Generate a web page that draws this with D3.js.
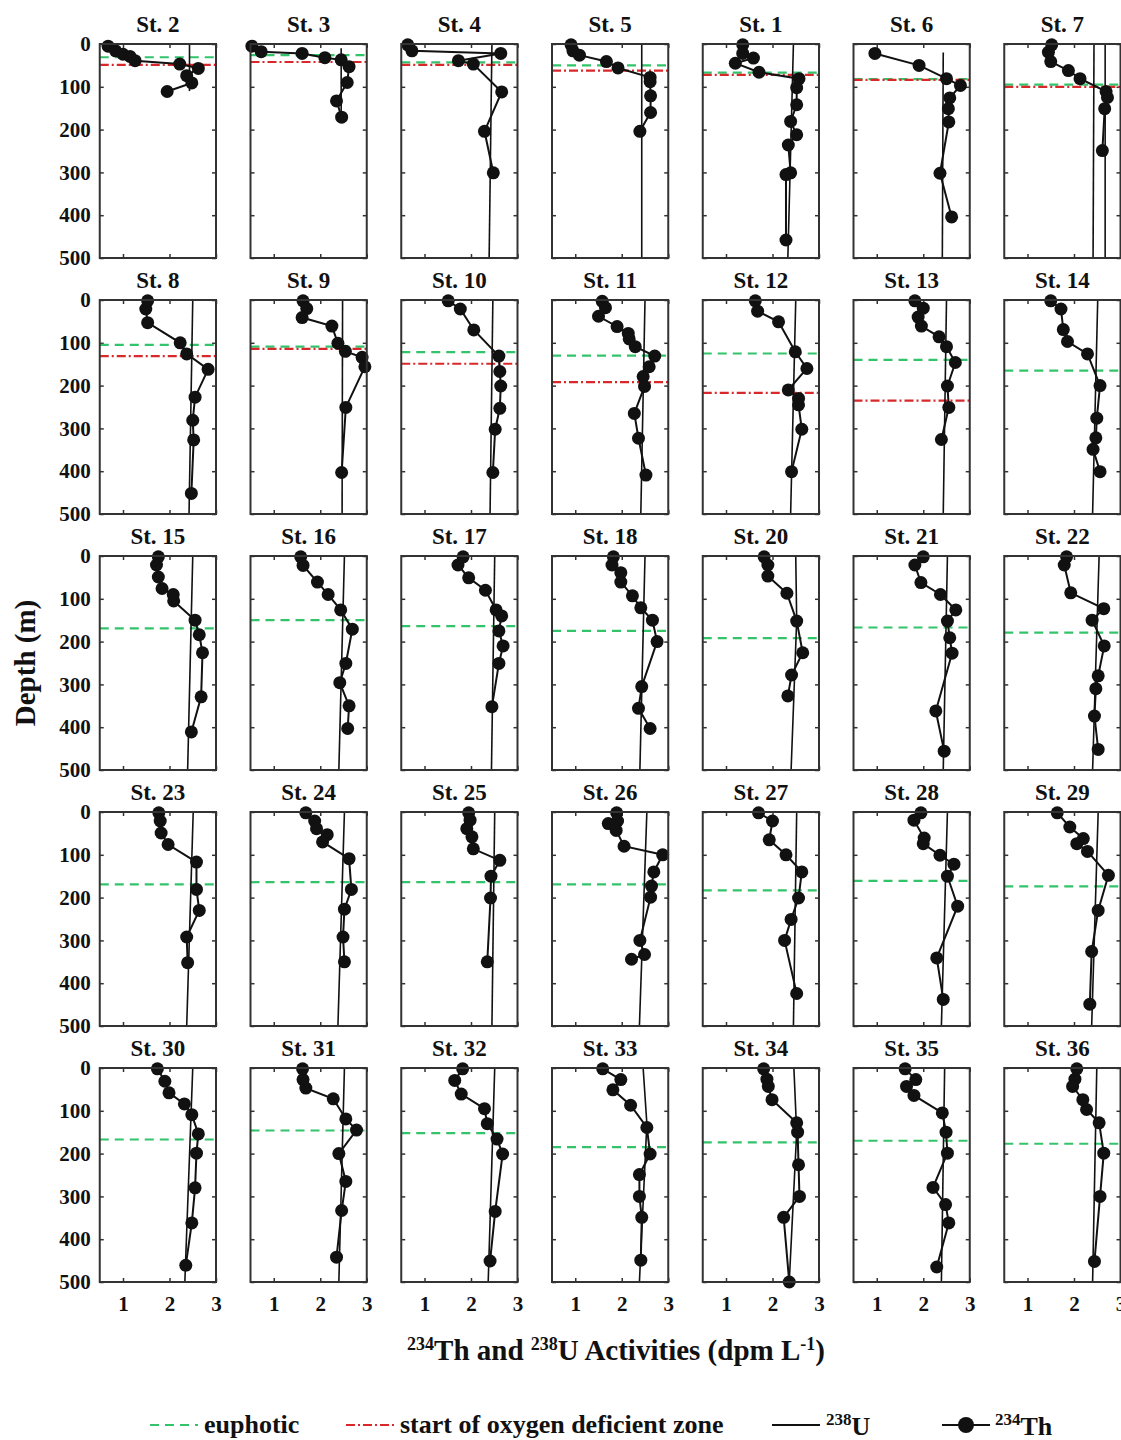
<!DOCTYPE html>
<html lang="en">
<head>
<meta charset="UTF-8">
<title>234Th and 238U profiles</title>
<script src="https://d3js.org/d3.v7.min.js"></script>
<style>
  body { margin: 0; background: #ffffff; }
  svg text { font-family: "Liberation Serif", "Times New Roman", serif; font-weight: bold; fill: #111; }
</style>
</head>
<body>
<div id="chart"></div>
<script>
// stations, in panel order (7 per row)
var stations = ["St. 2","St. 3","St. 4","St. 5","St. 1","St. 6","St. 7",
                "St. 8","St. 9","St. 10","St. 11","St. 12","St. 13","St. 14",
                "St. 15","St. 16","St. 17","St. 18","St. 20","St. 21","St. 22",
                "St. 23","St. 24","St. 25","St. 26","St. 27","St. 28","St. 29",
                "St. 30","St. 31","St. 32","St. 33","St. 34","St. 35","St. 36"];

// 234Th activity (dpm/L) and sample depth (m)
var thActivity = [
  [0.68,0.84,1.0,1.15,1.26,2.22,2.62,2.37,2.48,1.95],
  [0.53,0.73,1.61,2.1,2.45,2.62,2.58,2.35,2.46],
  [0.64,0.73,2.64,1.73,2.05,2.66,2.29,2.48],
  [0.91,0.95,1.09,1.67,1.92,2.61,2.61,2.62,2.62,2.39],
  [1.36,1.36,1.59,1.2,1.71,2.57,2.52,2.52,2.39,2.52,2.34,2.39,2.29,2.29],
  [0.96,1.91,2.5,2.8,2.57,2.54,2.55,2.36,2.61],
  [1.52,1.45,1.5,1.88,2.13,2.69,2.72,2.66,2.61],
  [1.53,1.49,1.53,2.23,2.37,2.83,2.55,2.5,2.52,2.47],
  [1.63,1.71,1.61,2.25,2.38,2.54,2.9,2.96,2.55,2.46],
  [1.51,1.77,2.06,2.6,2.62,2.64,2.62,2.52,2.47],
  [1.58,1.65,1.5,1.9,2.14,2.16,2.29,2.71,2.59,2.46,2.49,2.27,2.36,2.52],
  [1.63,1.68,2.13,2.49,2.74,2.34,2.56,2.56,2.63,2.41],
  [1.82,2.0,1.89,1.96,2.34,2.5,2.69,2.52,2.55,2.39],
  [1.5,1.72,1.77,1.86,2.29,2.56,2.49,2.47,2.41,2.56],
  [1.76,1.72,1.76,1.84,2.08,2.09,2.55,2.64,2.71,2.68,2.47],
  [1.58,1.63,1.94,2.17,2.44,2.69,2.55,2.42,2.62,2.59],
  [1.83,1.72,1.95,2.31,2.54,2.66,2.6,2.69,2.6,2.45],
  [1.82,1.79,1.98,1.98,2.23,2.41,2.66,2.76,2.43,2.36,2.61],
  [1.82,1.9,1.9,2.31,2.52,2.65,2.41,2.33],
  [2.0,1.82,1.95,2.37,2.7,2.52,2.57,2.62,2.27,2.45],
  [1.84,1.79,1.93,2.64,2.39,2.65,2.52,2.47,2.44,2.52],
  [1.77,1.8,1.82,1.97,2.58,2.58,2.64,2.37,2.39],
  [1.69,1.88,1.92,2.15,2.05,2.62,2.67,2.52,2.49,2.52],
  [1.95,1.98,1.91,2.02,2.05,2.62,2.43,2.42,2.35],
  [1.89,1.91,1.71,1.88,2.05,2.88,2.69,2.64,2.62,2.39,2.49,2.21],
  [1.7,2.0,1.93,2.29,2.63,2.56,2.4,2.26,2.52],
  [1.95,1.8,2.02,2.0,2.36,2.66,2.52,2.74,2.29,2.43],
  [1.64,1.91,2.2,2.06,2.29,2.74,2.52,2.38,2.34],
  [1.74,1.9,1.99,2.32,2.48,2.62,2.58,2.55,2.48,2.35],
  [1.62,1.63,1.69,2.28,2.55,2.78,2.4,2.55,2.46,2.35],
  [1.82,1.65,1.79,2.29,2.35,2.56,2.68,2.52,2.41],
  [1.59,1.98,1.81,2.19,2.54,2.61,2.38,2.38,2.43,2.41],
  [1.81,1.88,1.91,1.99,2.52,2.54,2.56,2.58,2.24,2.36],
  [1.61,1.84,1.64,1.8,2.41,2.49,2.52,2.21,2.48,2.55,2.29],
  [2.06,2.02,1.97,2.19,2.27,2.54,2.64,2.56,2.44]
];
var thDepth = [
  [5,16,24,29,39,47,57,74,91,111],
  [5,18,22,32,37,53,90,133,171],
  [2,16,22,39,47,112,204,301],
  [2,16,26,41,56,78,88,121,160,204],
  [2,22,33,45,66,81,102,142,181,212,236,301,305,458],
  [22,50,81,97,126,151,182,302,404],
  [2,19,41,62,81,111,125,151,249],
  [2,21,53,100,126,162,227,281,327,452],
  [2,20,41,61,101,120,134,156,251,403],
  [2,21,70,131,167,201,253,302,403],
  [3,18,38,62,78,91,109,131,156,179,202,265,323,409],
  [2,26,51,121,160,210,230,245,302,401],
  [2,19,40,61,86,109,146,201,251,326],
  [2,21,69,97,126,200,276,322,349,401],
  [2,21,49,76,90,105,150,184,226,329,411],
  [2,22,61,90,126,171,251,296,350,403],
  [2,21,51,80,126,140,175,210,251,352],
  [2,21,39,61,93,121,150,200,305,356,403],
  [2,21,47,87,152,226,278,327],
  [2,21,62,90,126,152,191,227,362,456],
  [2,21,86,123,150,210,280,310,374,452],
  [2,21,49,76,117,181,230,292,352],
  [2,21,39,53,70,109,181,227,292,350],
  [2,19,39,58,86,113,150,201,350],
  [2,21,27,43,80,100,140,173,199,300,333,344],
  [2,21,65,100,140,201,251,300,424],
  [2,19,61,74,101,122,150,220,341,438],
  [2,35,62,74,92,148,230,326,449],
  [2,31,58,84,109,154,199,280,362,461],
  [2,27,47,72,119,145,200,265,333,442],
  [2,29,61,95,130,166,201,335,451],
  [2,27,51,87,139,201,249,300,349,449],
  [2,26,43,74,128,150,226,300,349,500],
  [2,27,43,64,105,150,199,279,319,362,465],
  [2,26,43,74,97,128,199,300,452]
];

// 238U activity (dpm/L) and the depths it is given at
var uActivity = [
  [2.43,2.43],[2.45,2.45],[2.45,2.39],[2.43,2.43],[2.45,2.33],[2.43,2.41],[2.43,2.41],
  [2.5,2.42],[2.48,2.47],[2.47,2.41],[2.5,2.41],[2.5,2.39],[2.5,2.43],[2.51,2.4],
  [2.5,2.39],[2.52,2.4],[2.51,2.44],[2.5,2.39],[2.5,2.52,2.4],[2.52,2.43],[2.54,2.4],
  [2.51,2.37],[2.52,2.38],[2.51,2.45],[2.54,2.38],[2.52,2.45],[2.52,2.39],[2.52,2.38],
  [2.5,2.33],[2.52,2.4],[2.51,2.37],[2.46,2.54,2.38],[2.46,2.52,2.36],[2.46,2.39],[2.49,2.4]
];
var uDepth = [
  [0,110],[10,170],[0,500],[0,500],[0,500],[20,500],[0,500],
  [0,500],[0,500],[0,500],[0,500],[0,500],[0,500],[0,500],
  [0,500],[0,500],[0,500],[0,500],[0,150,500],[0,500],[0,500],
  [0,500],[0,500],[0,500],[0,500],[0,500],[0,500],[0,500],
  [0,500],[0,500],[0,500],[0,130,500],[0,150,500],[0,500],[0,500]
];
// St. 7 shows a second 238U profile
var u2Station = ["St. 7"];
var u2Activity = [[2.67,2.67]];
var u2Depth = [[0,500]];

// euphotic depth and start of the oxygen deficient zone (m); null = not drawn
var euphotic = [31,26,43,50,67,82,95, 105,109,122,130,125,140,165,
                169,150,164,175,192,167,179, 169,164,164,169,183,161,174,
                167,146,152,185,174,170,177];
var odz = [49,42,49,62,72,84,100, 131,114,149,192,217,235,null,
           null,null,null,null,null,null,null, null,null,null,null,null,null,null,
           null,null,null,null,null,null,null];

var xTicks = [1,2,3];
var yTicks = [0,100,200,300,400,500];

var W = 1121, H = 1440;
var nCols = 7;
var panelW = 116.25, panelH = 214;
var colX = function(c) { return 99.75 + c * 150.75; };
var rowY = function(r) { return 44 + r * 256; };
var nRows = Math.ceil(stations.length / nCols);

var green = "#33c46b", red = "#d8282a";

var svg = d3.select("#chart").append("svg")
    .attr("width", W)
    .attr("height", H)
    .style("background-color", "white");

var x = d3.scaleLinear().domain([0.5, 3]).range([0, panelW]);
var y = d3.scaleLinear().domain([0, 500]).range([0, panelH]);

var line = d3.line()
    .x(function(d) { return x(d[0]); })
    .y(function(d) { return y(d[1]); });

stations.forEach(function(name, i) {
    var c = i % nCols, r = Math.floor(i / nCols);
    var g = svg.append("g")
        .attr("transform", "translate(" + colX(c) + "," + rowY(r) + ")");

    // axes with inward ticks on all four sides
    var xb = g.append("g").attr("transform", "translate(0," + panelH + ")")
        .call(d3.axisBottom(x).tickValues(xTicks).tickSizeInner(-4).tickSizeOuter(0).tickPadding(14)
            .tickFormat(r === nRows - 1 ? d3.format("d") : ""));
    var xt = g.append("g")
        .call(d3.axisTop(x).tickValues(xTicks).tickSizeInner(-4).tickSizeOuter(0).tickFormat(""));
    var yl = g.append("g")
        .call(d3.axisLeft(y).tickValues(yTicks).tickSizeInner(-4).tickSizeOuter(0).tickPadding(9)
            .tickFormat(c === 0 ? d3.format("d") : ""));
    var yr = g.append("g").attr("transform", "translate(" + panelW + ",0)")
        .call(d3.axisRight(y).tickValues(yTicks).tickSizeInner(-4).tickSizeOuter(0).tickFormat(""));
    [xb, xt, yl, yr].forEach(function(a) {
        a.select(".domain").remove();
        a.selectAll("line").attr("stroke", "#333").attr("stroke-width", 1.5);
        a.selectAll("text").style("font-size", "21px").attr("fill", "#111");
    });

    // euphotic and ODZ lines
    if (euphotic[i] != null) {
        g.append("line")
            .attr("x1", 0).attr("x2", panelW)
            .attr("y1", y(euphotic[i])).attr("y2", y(euphotic[i]))
            .attr("stroke", green).attr("stroke-width", 2.2)
            .attr("stroke-dasharray", "9,6");
    }
    if (odz[i] != null) {
        g.append("line")
            .attr("x1", 0).attr("x2", panelW)
            .attr("y1", y(odz[i])).attr("y2", y(odz[i]))
            .attr("stroke", red).attr("stroke-width", 2.2)
            .attr("stroke-dasharray", "9,3,2,3");
    }

    // 238U
    var uPts = uActivity[i].map(function(v, k) { return [v, uDepth[i][k]]; });
    g.append("path").datum(uPts)
        .attr("d", line).attr("fill", "none")
        .attr("stroke", "#111").attr("stroke-width", 1.6);
    var a2 = u2Station.indexOf(name);
    if (a2 >= 0) {
        var u2Pts = u2Activity[a2].map(function(v, k) { return [v, u2Depth[a2][k]]; });
        g.append("path").datum(u2Pts)
            .attr("d", line).attr("fill", "none")
            .attr("stroke", "#111").attr("stroke-width", 1.6);
    }

    // 234Th
    var thPts = thActivity[i].map(function(v, k) { return [v, thDepth[i][k]]; });
    g.append("path").datum(thPts)
        .attr("d", line).attr("fill", "none")
        .attr("stroke", "#111").attr("stroke-width", 2);
    g.selectAll("circle").data(thPts).enter().append("circle")
        .attr("cx", function(d) { return x(d[0]); })
        .attr("cy", function(d) { return y(d[1]); })
        .attr("r", 6.5)
        .attr("fill", "#111");

    // frame
    g.append("rect")
        .attr("width", panelW).attr("height", panelH)
        .attr("fill", "none").attr("stroke", "#333").attr("stroke-width", 2);

    // title
    g.append("text")
        .attr("x", panelW / 2).attr("y", -12)
        .attr("text-anchor", "middle")
        .style("font-size", "23px")
        .text(name);
});

// y axis label
svg.append("text")
    .attr("transform", "translate(35,663) rotate(-90)")
    .attr("text-anchor", "middle")
    .style("font-size", "29px")
    .text("Depth (m)");

// x axis label with superscripts
var xl = svg.append("text")
    .attr("x", 616).attr("y", 1360)
    .attr("text-anchor", "middle")
    .style("font-size", "29px");
xl.append("tspan").attr("dy", -10).style("font-size", "18px").text("234");
xl.append("tspan").attr("dy", 10).text("Th and ");
xl.append("tspan").attr("dy", -10).style("font-size", "18px").text("238");
xl.append("tspan").attr("dy", 10).text("U Activities (dpm L");
xl.append("tspan").attr("dy", -10).style("font-size", "18px").text("-1");
xl.append("tspan").attr("dy", 10).text(")");

// legend
var ly = 1425;
var legend = svg.append("g");
legend.append("line").attr("x1", 150).attr("x2", 198).attr("y1", ly).attr("y2", ly)
    .attr("stroke", green).attr("stroke-width", 2.2).attr("stroke-dasharray", "9,6");
legend.append("text").attr("x", 204).attr("y", ly + 8).style("font-size", "26px").text("euphotic");

legend.append("line").attr("x1", 346).attr("x2", 395).attr("y1", ly).attr("y2", ly)
    .attr("stroke", red).attr("stroke-width", 2.2).attr("stroke-dasharray", "9,3,2,3");
legend.append("text").attr("x", 400).attr("y", ly + 8).style("font-size", "26px")
    .text("start of oxygen deficient zone");

legend.append("line").attr("x1", 772).attr("x2", 820).attr("y1", ly).attr("y2", ly)
    .attr("stroke", "#111").attr("stroke-width", 1.8);
var lu = legend.append("text").attr("x", 826).attr("y", ly + 10).style("font-size", "26px");
lu.append("tspan").attr("dy", -10).style("font-size", "17px").text("238");
lu.append("tspan").attr("dy", 10).text("U");

legend.append("line").attr("x1", 942).attr("x2", 990).attr("y1", ly).attr("y2", ly)
    .attr("stroke", "#111").attr("stroke-width", 2);
legend.append("circle").attr("cx", 966).attr("cy", ly).attr("r", 8).attr("fill", "#111");
var lt = legend.append("text").attr("x", 995).attr("y", ly + 10).style("font-size", "26px");
lt.append("tspan").attr("dy", -10).style("font-size", "17px").text("234");
lt.append("tspan").attr("dy", 10).text("Th");
</script>
</body>
</html>
